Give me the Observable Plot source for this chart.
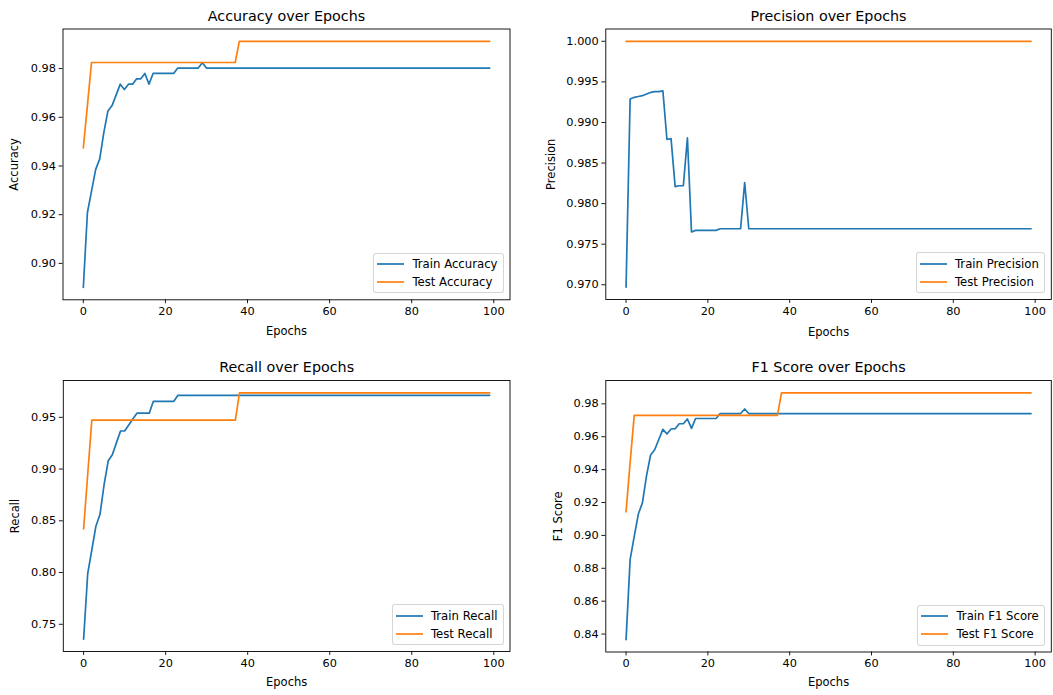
<!DOCTYPE html>
<html><head><meta charset="utf-8">
<script src="https://cdn.jsdelivr.net/npm/d3@7"></script>
<script src="https://cdn.jsdelivr.net/npm/@observablehq/plot@0.6"></script>
<style>
body{margin:0;background:#fff;}
#page{position:relative;width:1053px;height:695px;background:#fff;overflow:hidden;font-family:"DejaVu Sans",sans-serif;}
.panel{position:absolute;overflow:visible;}
.legend{position:absolute;background:rgba(255,255,255,0.8);border:1px solid rgba(204,204,204,0.8);border-radius:3px;padding:1.5px 5px 1.5px 3px;font-size:11.7px;color:#000;font-family:"DejaVu Sans",sans-serif;}
.legend .row{display:flex;align-items:center;height:17.8px;white-space:nowrap;}
.legend svg{margin-right:8px;display:block;}
</style></head>
<body><div id="page"></div>
<script>
const epochs = d3.range(100);

const trainAcc = [
0.8901,0.9209,0.9297,0.9385,0.9429,0.9538,0.9626,0.9648,0.9692,0.9736,
0.9714,0.9736,0.9736,0.9758,0.9758,0.9780,0.9736,0.9780,0.9780,0.9780,
0.9780,0.9780,0.9780,0.9802,0.9802,0.9802,0.9802,0.9802,0.9802,0.9824,
0.9802,0.9802,0.9802,0.9802,0.9802,0.9802,0.9802,0.9802,0.9802,0.9802,
0.9802,0.9802,0.9802,0.9802,0.9802,0.9802,0.9802,0.9802,0.9802,0.9802,
0.9802,0.9802,0.9802,0.9802,0.9802,0.9802,0.9802,0.9802,0.9802,0.9802,
0.9802,0.9802,0.9802,0.9802,0.9802,0.9802,0.9802,0.9802,0.9802,0.9802,
0.9802,0.9802,0.9802,0.9802,0.9802,0.9802,0.9802,0.9802,0.9802,0.9802,
0.9802,0.9802,0.9802,0.9802,0.9802,0.9802,0.9802,0.9802,0.9802,0.9802,
0.9802,0.9802,0.9802,0.9802,0.9802,0.9802,0.9802,0.9802,0.9802,0.9802];

const testAcc = [
0.9474,0.9649,0.9825,0.9825,0.9825,0.9825,0.9825,0.9825,0.9825,0.9825,
0.9825,0.9825,0.9825,0.9825,0.9825,0.9825,0.9825,0.9825,0.9825,0.9825,
0.9825,0.9825,0.9825,0.9825,0.9825,0.9825,0.9825,0.9825,0.9825,0.9825,
0.9825,0.9825,0.9825,0.9825,0.9825,0.9825,0.9825,0.9825,0.9912,0.9912,
0.9912,0.9912,0.9912,0.9912,0.9912,0.9912,0.9912,0.9912,0.9912,0.9912,
0.9912,0.9912,0.9912,0.9912,0.9912,0.9912,0.9912,0.9912,0.9912,0.9912,
0.9912,0.9912,0.9912,0.9912,0.9912,0.9912,0.9912,0.9912,0.9912,0.9912,
0.9912,0.9912,0.9912,0.9912,0.9912,0.9912,0.9912,0.9912,0.9912,0.9912,
0.9912,0.9912,0.9912,0.9912,0.9912,0.9912,0.9912,0.9912,0.9912,0.9912,
0.9912,0.9912,0.9912,0.9912,0.9912,0.9912,0.9912,0.9912,0.9912,0.9912];

const trainPrec = [
0.9697,0.9929,0.9931,0.9932,0.9933,0.9935,0.9937,0.9938,0.9938,0.9939,
0.9879,0.9880,0.9821,0.9822,0.9822,0.9881,0.9765,0.9767,0.9767,0.9767,
0.9767,0.9767,0.9767,0.9769,0.9769,0.9769,0.9769,0.9769,0.9769,0.9826,
0.9769,0.9769,0.9769,0.9769,0.9769,0.9769,0.9769,0.9769,0.9769,0.9769,
0.9769,0.9769,0.9769,0.9769,0.9769,0.9769,0.9769,0.9769,0.9769,0.9769,
0.9769,0.9769,0.9769,0.9769,0.9769,0.9769,0.9769,0.9769,0.9769,0.9769,
0.9769,0.9769,0.9769,0.9769,0.9769,0.9769,0.9769,0.9769,0.9769,0.9769,
0.9769,0.9769,0.9769,0.9769,0.9769,0.9769,0.9769,0.9769,0.9769,0.9769,
0.9769,0.9769,0.9769,0.9769,0.9769,0.9769,0.9769,0.9769,0.9769,0.9769,
0.9769,0.9769,0.9769,0.9769,0.9769,0.9769,0.9769,0.9769,0.9769,0.9769];

const testPrec = [
1.0,1.0,1.0,1.0,1.0,1.0,1.0,1.0,1.0,1.0,
1.0,1.0,1.0,1.0,1.0,1.0,1.0,1.0,1.0,1.0,
1.0,1.0,1.0,1.0,1.0,1.0,1.0,1.0,1.0,1.0,
1.0,1.0,1.0,1.0,1.0,1.0,1.0,1.0,1.0,1.0,
1.0,1.0,1.0,1.0,1.0,1.0,1.0,1.0,1.0,1.0,
1.0,1.0,1.0,1.0,1.0,1.0,1.0,1.0,1.0,1.0,
1.0,1.0,1.0,1.0,1.0,1.0,1.0,1.0,1.0,1.0,
1.0,1.0,1.0,1.0,1.0,1.0,1.0,1.0,1.0,1.0,
1.0,1.0,1.0,1.0,1.0,1.0,1.0,1.0,1.0,1.0,
1.0,1.0,1.0,1.0,1.0,1.0,1.0,1.0,1.0,1.0];

const trainRec = [
0.7356,0.7989,0.8218,0.8448,0.8563,0.8851,0.9080,0.9138,0.9253,0.9368,
0.9368,0.9425,0.9483,0.9540,0.9540,0.9540,0.9540,0.9655,0.9655,0.9655,
0.9655,0.9655,0.9655,0.9713,0.9713,0.9713,0.9713,0.9713,0.9713,0.9713,
0.9713,0.9713,0.9713,0.9713,0.9713,0.9713,0.9713,0.9713,0.9713,0.9713,
0.9713,0.9713,0.9713,0.9713,0.9713,0.9713,0.9713,0.9713,0.9713,0.9713,
0.9713,0.9713,0.9713,0.9713,0.9713,0.9713,0.9713,0.9713,0.9713,0.9713,
0.9713,0.9713,0.9713,0.9713,0.9713,0.9713,0.9713,0.9713,0.9713,0.9713,
0.9713,0.9713,0.9713,0.9713,0.9713,0.9713,0.9713,0.9713,0.9713,0.9713,
0.9713,0.9713,0.9713,0.9713,0.9713,0.9713,0.9713,0.9713,0.9713,0.9713,
0.9713,0.9713,0.9713,0.9713,0.9713,0.9713,0.9713,0.9713,0.9713,0.9713];

const testRec = [
0.8421,0.8947,0.9474,0.9474,0.9474,0.9474,0.9474,0.9474,0.9474,0.9474,
0.9474,0.9474,0.9474,0.9474,0.9474,0.9474,0.9474,0.9474,0.9474,0.9474,
0.9474,0.9474,0.9474,0.9474,0.9474,0.9474,0.9474,0.9474,0.9474,0.9474,
0.9474,0.9474,0.9474,0.9474,0.9474,0.9474,0.9474,0.9474,0.9737,0.9737,
0.9737,0.9737,0.9737,0.9737,0.9737,0.9737,0.9737,0.9737,0.9737,0.9737,
0.9737,0.9737,0.9737,0.9737,0.9737,0.9737,0.9737,0.9737,0.9737,0.9737,
0.9737,0.9737,0.9737,0.9737,0.9737,0.9737,0.9737,0.9737,0.9737,0.9737,
0.9737,0.9737,0.9737,0.9737,0.9737,0.9737,0.9737,0.9737,0.9737,0.9737,
0.9737,0.9737,0.9737,0.9737,0.9737,0.9737,0.9737,0.9737,0.9737,0.9737,
0.9737,0.9737,0.9737,0.9737,0.9737,0.9737,0.9737,0.9737,0.9737,0.9737];

const trainF1 = [
0.8366,0.8854,0.8994,0.9130,0.9198,0.9362,0.9489,0.9521,0.9583,0.9645,
0.9617,0.9647,0.9649,0.9679,0.9679,0.9708,0.9651,0.9711,0.9711,0.9711,
0.9711,0.9711,0.9711,0.9741,0.9741,0.9741,0.9741,0.9741,0.9741,0.9769,
0.9741,0.9741,0.9741,0.9741,0.9741,0.9741,0.9741,0.9741,0.9741,0.9741,
0.9741,0.9741,0.9741,0.9741,0.9741,0.9741,0.9741,0.9741,0.9741,0.9741,
0.9741,0.9741,0.9741,0.9741,0.9741,0.9741,0.9741,0.9741,0.9741,0.9741,
0.9741,0.9741,0.9741,0.9741,0.9741,0.9741,0.9741,0.9741,0.9741,0.9741,
0.9741,0.9741,0.9741,0.9741,0.9741,0.9741,0.9741,0.9741,0.9741,0.9741,
0.9741,0.9741,0.9741,0.9741,0.9741,0.9741,0.9741,0.9741,0.9741,0.9741,
0.9741,0.9741,0.9741,0.9741,0.9741,0.9741,0.9741,0.9741,0.9741,0.9741];

const testF1 = [
0.9143,0.9444,0.9730,0.9730,0.9730,0.9730,0.9730,0.9730,0.9730,0.9730,
0.9730,0.9730,0.9730,0.9730,0.9730,0.9730,0.9730,0.9730,0.9730,0.9730,
0.9730,0.9730,0.9730,0.9730,0.9730,0.9730,0.9730,0.9730,0.9730,0.9730,
0.9730,0.9730,0.9730,0.9730,0.9730,0.9730,0.9730,0.9730,0.9867,0.9867,
0.9867,0.9867,0.9867,0.9867,0.9867,0.9867,0.9867,0.9867,0.9867,0.9867,
0.9867,0.9867,0.9867,0.9867,0.9867,0.9867,0.9867,0.9867,0.9867,0.9867,
0.9867,0.9867,0.9867,0.9867,0.9867,0.9867,0.9867,0.9867,0.9867,0.9867,
0.9867,0.9867,0.9867,0.9867,0.9867,0.9867,0.9867,0.9867,0.9867,0.9867,
0.9867,0.9867,0.9867,0.9867,0.9867,0.9867,0.9867,0.9867,0.9867,0.9867,
0.9867,0.9867,0.9867,0.9867,0.9867,0.9867,0.9867,0.9867,0.9867,0.9867];

const xTicks = [0, 20, 40, 60, 80, 100];
const accTicks = [0.90, 0.92, 0.94, 0.96, 0.98];
const precTicks = [0.970, 0.975, 0.980, 0.985, 0.990, 0.995, 1.000];
const recTicks = [0.75, 0.80, 0.85, 0.90, 0.95];
const f1Ticks = [0.84, 0.86, 0.88, 0.90, 0.92, 0.94, 0.96, 0.98];

const titles = ["Accuracy over Epochs", "Precision over Epochs", "Recall over Epochs", "F1 Score over Epochs"];
const yLabels = ["Accuracy", "Precision", "Recall", "F1 Score"];
const trainNames = ["Train Accuracy", "Train Precision", "Train Recall", "Train F1 Score"];
const testNames = ["Test Accuracy", "Test Precision", "Test Recall", "Test F1 Score"];

const TRAIN_COLOR = "#1f77b4", TEST_COLOR = "#ff7f0e";

// layout (page pixel coordinates)
const layout = [
  {left: 0,   top: 0,   w: 530, h: 347, fl: 62.5, fr: 509.5, ft: 28.5, fb: 299.3, ylabX: 14, xlabDy: 31.5},
  {left: 530, top: 0,   w: 523, h: 347, fl: 605.3, fr: 1050.8, ft: 28.5, fb: 299.0, ylabX: 550.5, xlabDy: 32.5},
  {left: 0,   top: 347, w: 530, h: 348, fl: 62.8, fr: 509.5, ft: 380, fb: 651.0, ylabX: 15, xlabDy: 30.5},
  {left: 530, top: 347, w: 523, h: 348, fl: 605.3, fr: 1050.8, ft: 380, fb: 651.5, ylabX: 558, xlabDy: 30}
];
const series = [[trainAcc, testAcc], [trainPrec, testPrec], [trainRec, testRec], [trainF1, testF1]];
const yTicksList = [accTicks, precTicks, recTicks, f1Ticks];
const fmts = [".2f", ".3f", ".2f", ".2f"];

const page = document.getElementById("page");

layout.forEach((L, k) => {
  const [tr, te] = series[k];
  const all = tr.concat(te);
  const lo = d3.min(all), hi = d3.max(all), pad = (hi - lo) * 0.05;
  const chart = Plot.plot({
    width: L.w, height: L.h,
    marginLeft: L.fl - L.left, marginRight: L.left + L.w - L.fr,
    marginTop: L.ft - L.top, marginBottom: L.top + L.h - L.fb,
    style: {fontFamily: "DejaVu Sans", fontSize: "11.3px", color: "#000", background: "transparent", overflow: "visible"},
    x: {domain: [-4.95, 103.95]},
    y: {domain: [lo - pad, hi + pad]},
    marks: [
      Plot.line(epochs, {x: epochs, y: tr, stroke: TRAIN_COLOR, strokeWidth: 1.7}),
      Plot.line(epochs, {x: epochs, y: te, stroke: TEST_COLOR, strokeWidth: 1.7}),
      Plot.axisX({ticks: xTicks, tickFormat: d => String(d), tickSize: 3.9, tickPadding: 3.2, label: null, strokeWidth: 0.9}),
      Plot.axisY({ticks: yTicksList[k], tickFormat: d3.format(fmts[k]), tickSize: 3.9, tickPadding: 3.2, label: null, strokeWidth: 0.9}),
      Plot.frame({stroke: "#000", strokeWidth: 0.9}),
      Plot.text([titles[k]], {text: d => d, frameAnchor: "top", dy: -8.5, lineAnchor: "bottom", fontSize: 14.3, fill: "#000"}),
      Plot.text([yLabels[k]], {text: d => d, frameAnchor: "left", rotate: -90, dx: L.ylabX - L.fl, lineAnchor: "middle", textAnchor: "middle", fontSize: 11.5, fill: "#000"}),
      Plot.text(["Epochs"], {text: d => d, frameAnchor: "bottom", dy: L.xlabDy, lineAnchor: "middle", fontSize: 11.5, fill: "#000"})
    ]
  });
  chart.classList.add("panel");
  chart.style.left = L.left + "px";
  chart.style.top = L.top + "px";
  page.appendChild(chart);

  const lg = document.createElement("div");
  lg.className = "legend";
  lg.style.right = (1053 - (L.fr - 6)) + "px";
  lg.style.bottom = (695 - (L.fb - 6)) + "px";
  [[trainNames[k], TRAIN_COLOR], [testNames[k], TEST_COLOR]].forEach(([name, col]) => {
    const row = document.createElement("div");
    row.className = "row";
    row.innerHTML = `<svg width="27" height="4"><line x1="0" y1="2" x2="27" y2="2" stroke="${col}" stroke-width="1.7"/></svg><span>${name}</span>`;
    lg.appendChild(row);
  });
  page.appendChild(lg);
});
</script>
</body></html>
